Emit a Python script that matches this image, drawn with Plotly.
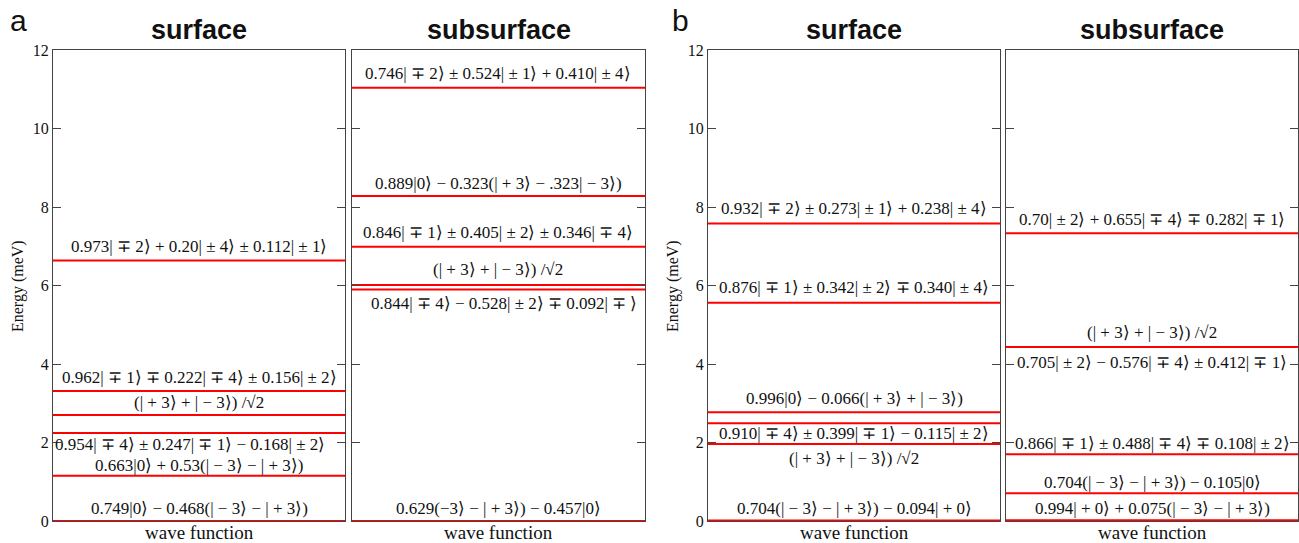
import plotly.graph_objects as go

# Energy levels (meV) per panel
a_surf_levels = [6.64, 3.31, 2.70, 2.24, 1.15, 0.0]
a_sub_levels = [11.04, 8.28, 6.99, 6.01, 5.90, 0.0]
b_surf_levels = [7.58, 5.56, 2.77, 2.49, 1.96, 0.01]
b_sub_levels = [7.33, 4.43, 1.70, 0.71, 0.02]

# Wave function labels and their energy positions
a_surf_labels = [
    "0.973| ∓ 2⟩ + 0.20| ± 4⟩ ± 0.112| ± 1⟩",
    "0.962| ∓ 1⟩ ∓ 0.222| ∓ 4⟩ ± 0.156| ± 2⟩",
    "(| + 3⟩ + | − 3⟩) /√2",
    "0.954| ∓ 4⟩ ± 0.247| ∓ 1⟩ − 0.168| ± 2⟩",
    "0.663|0⟩ + 0.53(| − 3⟩ − | + 3⟩)",
    "0.749|0⟩ − 0.468(| − 3⟩ − | + 3⟩)",
]
a_surf_label_y = [7.0, 3.66, 3.02, 1.96, 1.42, 0.33]
a_surf_label_x = [0.5, 0.5, 0.5, 0.47, 0.5, 0.5]

a_sub_labels = [
    "0.746| ∓ 2⟩ ± 0.524| ± 1⟩ + 0.410| ± 4⟩",
    "0.889|0⟩ − 0.323(| + 3⟩ − .323| − 3⟩)",
    "0.846| ∓ 1⟩ ± 0.405| ± 2⟩ ± 0.346| ∓ 4⟩",
    "(| + 3⟩ + | − 3⟩) /√2",
    "0.844| ∓ 4⟩ − 0.528| ± 2⟩ ∓ 0.092| ∓ ⟩",
    "0.629(−3⟩ − | + 3⟩) − 0.457|0⟩",
]
a_sub_label_y = [11.4, 8.59, 7.34, 6.41, 5.53, 0.33]
a_sub_label_x = [0.5, 0.5, 0.5, 0.5, 0.52, 0.5]

b_surf_labels = [
    "0.932| ∓ 2⟩ ± 0.273| ± 1⟩ + 0.238| ± 4⟩",
    "0.876| ∓ 1⟩ ± 0.342| ± 2⟩ ∓ 0.340| ± 4⟩",
    "0.996|0⟩ − 0.066(| + 3⟩ + | − 3⟩)",
    "0.910| ∓ 4⟩ ± 0.399| ∓ 1⟩ − 0.115| ± 2⟩",
    "(| + 3⟩ + | − 3⟩) /√2",
    "0.704(| − 3⟩ − | + 3⟩) − 0.094| + 0⟩",
]
b_surf_label_y = [7.97, 5.94, 3.11, 2.24, 1.58, 0.33]
b_surf_label_x = [0.5, 0.5, 0.5, 0.5, 0.5, 0.5]

b_sub_labels = [
    "0.70| ± 2⟩ + 0.655| ∓ 4⟩ ∓ 0.282| ∓ 1⟩",
    "(| + 3⟩ + | − 3⟩) /√2",
    "0.705| ± 2⟩ − 0.576| ∓ 4⟩ ± 0.412| ∓ 1⟩",
    "0.866| ∓ 1⟩ ± 0.488| ∓ 4⟩ ∓ 0.108| ± 2⟩",
    "0.704(| − 3⟩ − | + 3⟩) − 0.105|0⟩",
    "0.994| + 0⟩ + 0.075(| − 3⟩ − | + 3⟩)",
]
b_sub_label_y = [7.69, 4.79, 4.03, 1.98, 0.99, 0.33]
b_sub_label_x = [0.5, 0.5, 0.5, 0.5, 0.5, 0.5]

y_ticks = [0, 2, 4, 6, 8, 10, 12]

W, H = 1299, 543
px = lambda x: x / W
py = lambda y: 1 - y / H

panels = [
    ("x", "y", a_surf_levels, a_surf_labels, a_surf_label_y, a_surf_label_x, (53, 345), True, "surface"),
    ("x2", "y2", a_sub_levels, a_sub_labels, a_sub_label_y, a_sub_label_x, (352, 645), False, "subsurface"),
    ("x3", "y3", b_surf_levels, b_surf_labels, b_surf_label_y, b_surf_label_x, (708, 1000), True, "surface"),
    ("x4", "y4", b_sub_levels, b_sub_labels, b_sub_label_y, b_sub_label_x, (1006, 1298), False, "subsurface"),
]

fig = go.Figure()
serif = "Liberation Serif"
ydom = [py(521), py(50)]

for i, (xa, ya, levels, labels, ly, lx, (x0, x1), showlab, title) in enumerate(panels):
    for e in levels:
        fig.add_trace(go.Scatter(x=[0, 1], y=[e, e], xaxis=xa, yaxis=ya, mode="lines",
                                 line=dict(color="#ff0000", width=2), showlegend=False,
                                 hoverinfo="skip", cliponaxis=False))
    for t, yy, xx in zip(labels, ly, lx):
        fig.add_annotation(x=xx, y=yy, xref=xa, yref=ya, text=t, showarrow=False,
                           font=dict(family=serif, size=17, color="#111"),
                           xanchor="center", yanchor="middle")
    suffix = "" if i == 0 else str(i + 1)
    fig.layout["xaxis" + suffix] = dict(
        domain=[px(x0), px(x1)], range=[0, 1], showticklabels=False, ticks="",
        showline=True, linecolor="#444", linewidth=1, mirror=True, showgrid=False,
        zeroline=False, anchor=ya, automargin=False,
    )
    fig.layout["yaxis" + suffix] = dict(
        domain=ydom, range=[0, 12], tickvals=y_ticks, showticklabels=showlab,
        ticks="inside", ticklen=8, tickcolor="#444", mirror="ticks",
        showline=True, linecolor="#444", linewidth=1, showgrid=False, zeroline=False,
        anchor=xa, tickfont=dict(family=serif, size=16, color="#111"), automargin=False,
    )
    cx = (px(x0) + px(x1)) / 2
    fig.add_annotation(x=cx, y=py(30), xref="paper", yref="paper",
                       text="<b>" + title + "</b>", showarrow=False,
                       font=dict(family="Liberation Sans", size=27, color="#111"),
                       xanchor="center", yanchor="middle")
    fig.add_annotation(x=cx, y=py(532), xref="paper", yref="paper",
                       text="wave function", showarrow=False,
                       font=dict(family=serif, size=19, color="#111"),
                       xanchor="center", yanchor="middle")
    if showlab:
        fig.add_annotation(x=px(x0 - 35), y=py(286), xref="paper", yref="paper",
                           text="Energy (meV)", showarrow=False, textangle=-90,
                           font=dict(family=serif, size=16, color="#111"),
                           xanchor="center", yanchor="middle")

for lab, xx in (("a", 18), ("b", 680)):
    fig.add_annotation(x=px(xx), y=py(20), xref="paper", yref="paper", text=lab,
                       showarrow=False, font=dict(family="Liberation Sans", size=30, color="#111"),
                       xanchor="center", yanchor="middle")

fig.update_layout(width=W, height=H, margin=dict(l=0, r=0, t=0, b=0, autoexpand=False),
                  plot_bgcolor="white", paper_bgcolor="white")
fig.write_html("out.html")
